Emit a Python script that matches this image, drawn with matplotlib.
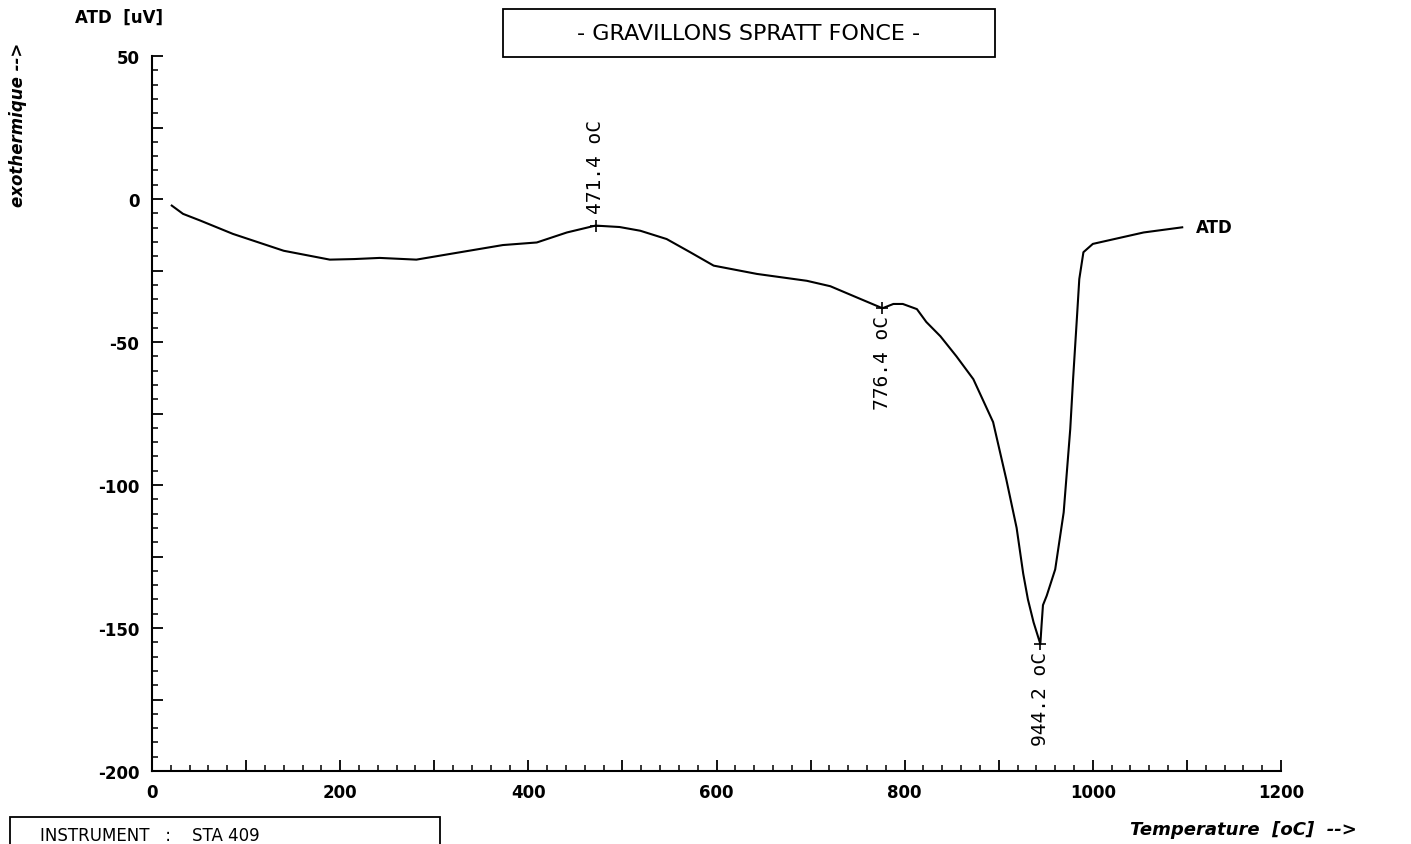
import matplotlib
matplotlib.use("Agg")
import matplotlib.pyplot as plt
from matplotlib.patches import Rectangle
from matplotlib.ticker import MultipleLocator, FuncFormatter

# ---- data ----
temperature = [21, 33, 51, 86, 140, 189, 215, 242, 281, 317, 373, 409, 441, 471.4,
               497, 519, 547, 572, 597, 643, 696, 721, 749, 776.4, 788, 798, 813,
               823, 838, 855, 873, 894, 908, 919, 926, 931, 937, 944.2, 945.5, 947,
               951, 960, 969, 976, 979, 983, 985.6, 990, 1000, 1054, 1095]
atd = [-2.3, -5.2, -7.5, -12.2, -18.1, -21.2, -21.0, -20.6, -21.2, -19.2, -16.1, -15.2,
       -11.7, -9.3, -9.8, -11.1, -14.0, -18.6, -23.3, -26.2, -28.6, -30.5, -34.4, -38.2,
       -36.7, -36.7, -38.5, -43.0, -48.0, -55.0, -63.0, -78.0, -98.0, -115.0, -131.0,
       -140.0, -148.0, -155.6, -149.0, -142.0, -138.7, -129.5, -109.6, -80.4, -63.0,
       -42.0, -28.0, -18.6, -15.7, -11.7, -9.9]
peak_temps = [471.4, 776.4, 944.2]
peak_vals = [-9.3, -38.2, -155.6]
peak_labels = ["471.4 oC", "776.4 oC", "944.2 oC"]
peak_side = ["above", "below", "below"]

W, H = 1411, 845
fig = plt.figure(figsize=(W / 100, H / 100), dpi=100)
ax = fig.add_axes([152 / W, 1 - 772 / H, (1281 - 152) / W, (772 - 57) / H])

ax.plot(temperature, atd, color="black", lw=1.5)
ax.plot(peak_temps, peak_vals, "+", color="black", ms=9, mew=1.2)

for t, v, lab, side in zip(peak_temps, peak_vals, peak_labels, peak_side):
    if side == "above":
        ax.annotate(lab, (t, v), xytext=(0, 9), textcoords="offset points",
                    rotation=90, ha="center", va="bottom", fontsize=14,
                    family="DejaVu Sans Mono")
    else:
        ax.annotate(lab, (t, v), xytext=(0, -5), textcoords="offset points",
                    rotation=90, ha="center", va="top", fontsize=14,
                    family="DejaVu Sans Mono")

ax.annotate("ATD", (temperature[-1], atd[-1]), xytext=(10, 0), textcoords="offset points",
            ha="left", va="center", fontsize=12, fontweight="bold")

ax.set_xlim(0, 1200)
ax.set_ylim(-200, 50)
for s in ["top", "right"]:
    ax.spines[s].set_visible(False)
for s in ["left", "bottom"]:
    ax.spines[s].set_linewidth(1.5)

ax.xaxis.set_major_locator(MultipleLocator(100))
ax.xaxis.set_minor_locator(MultipleLocator(20))
ax.yaxis.set_major_locator(MultipleLocator(25))
ax.yaxis.set_minor_locator(MultipleLocator(5))
ax.xaxis.set_major_formatter(FuncFormatter(lambda v, p: f"{v:.0f}" if round(v) % 200 == 0 else ""))
ax.yaxis.set_major_formatter(FuncFormatter(lambda v, p: f"{v:.0f}" if round(v) % 50 == 0 else ""))
ax.tick_params(which="major", direction="in", length=8, width=1.3, labelsize=12, pad=9)
ax.tick_params(which="minor", direction="in", length=4, width=1.1)
for lbl in ax.get_xticklabels() + ax.get_yticklabels():
    lbl.set_fontweight("bold")

# axis texts
fig.text(75 / W, 1 - 18 / H, "ATD  [uV]", ha="left", va="center", fontsize=12, fontweight="bold")
fig.text(18 / W, 1 - 125 / H, "exothermique -->", rotation=90, ha="center", va="center",
         fontsize=12, style="italic", fontweight="bold")
fig.text(1130 / W, 1 - 830 / H, "Temperature  [oC]  -->", ha="left", va="center",
         fontsize=13, style="italic", fontweight="bold")

# title box
fig.patches.append(Rectangle((503 / W, 1 - 58 / H), (995 - 503) / W, 48 / H,
                             transform=fig.transFigure, fill=False, lw=1.3, ec="black"))
fig.text(749 / W, 1 - 34 / H, "- GRAVILLONS SPRATT FONCE -", ha="center", va="center",
         fontsize=16)

# instrument box (cut off at bottom)
fig.patches.append(Rectangle((10 / W, 1 - 870 / H), (440 - 10) / W, 52 / H,
                             transform=fig.transFigure, fill=False, lw=1.3, ec="black"))
fig.text(40 / W, 1 - 827 / H, "INSTRUMENT   :    STA 409", ha="left", va="top", fontsize=12)

fig.savefig("out.png", dpi=100)
